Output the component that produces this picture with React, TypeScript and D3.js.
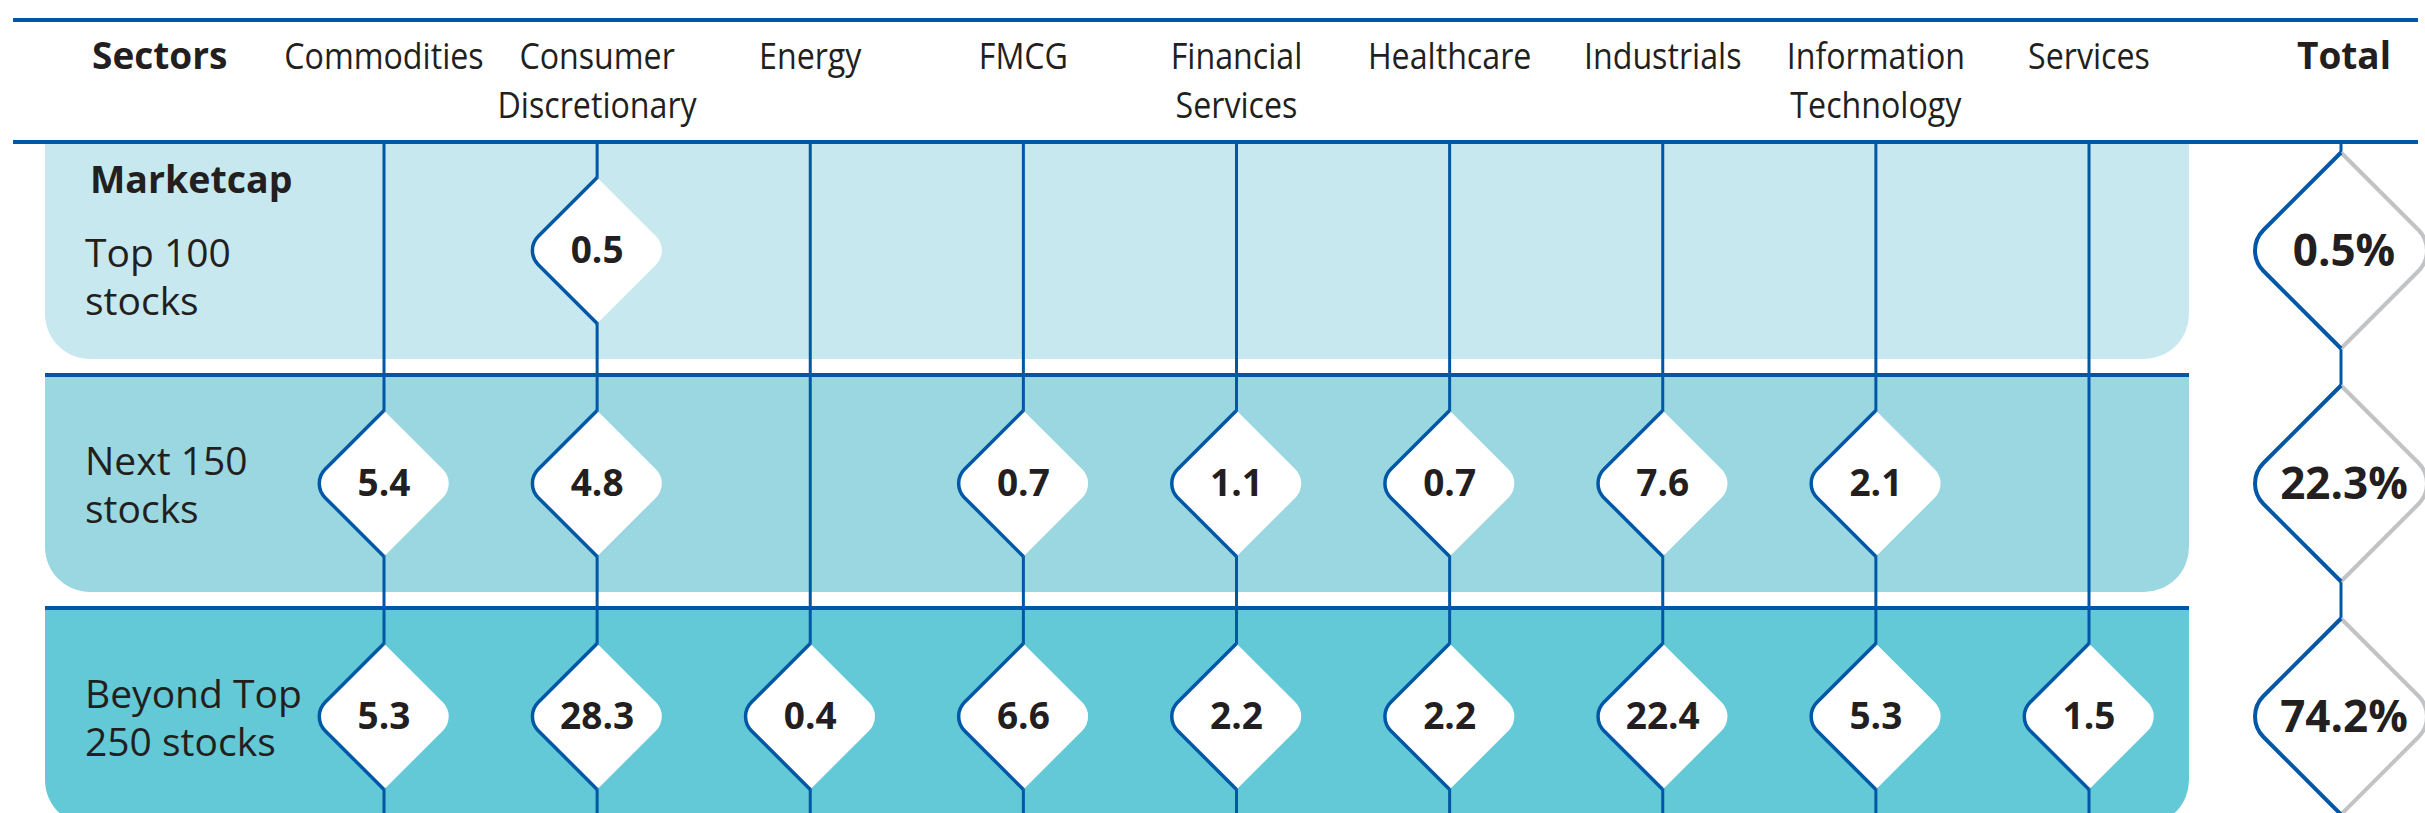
import { useEffect, useRef } from 'react';
import * as d3 from 'd3';

// Sector columns and their header lines
const sectors = [
  'Commodities',
  'Consumer Discretionary',
  'Energy',
  'FMCG',
  'Financial Services',
  'Healthcare',
  'Industrials',
  'Information Technology',
  'Services',
];
const sectorLabelLines = [
  ['Commodities'],
  ['Consumer', 'Discretionary'],
  ['Energy'],
  ['FMCG'],
  ['Financial', 'Services'],
  ['Healthcare'],
  ['Industrials'],
  ['Information', 'Technology'],
  ['Services'],
];

// Marketcap buckets (rows)
const marketcapRows = ['Top 100 stocks', 'Next 150 stocks', 'Beyond Top 250 stocks'];
const rowLabelLines = [
  ['Top 100', 'stocks'],
  ['Next 150', 'stocks'],
  ['Beyond Top', '250 stocks'],
];

// Weights (%) per sector, null = no holding
const top100 = [null, 0.5, null, null, null, null, null, null, null];
const next150 = [5.4, 4.8, null, 0.7, 1.1, 0.7, 7.6, 2.1, null];
const beyondTop250 = [5.3, 28.3, 0.4, 6.6, 2.2, 2.2, 22.4, 5.3, 1.5];
const rowTotals = [0.5, 22.3, 74.2];

function halfDiamond(cx: number, cy: number, h: number, r: number, side: -1 | 1) {
  const p = d3.path();
  if (side < 0) {
    p.moveTo(cx, cy - h);
    p.arcTo(cx - h, cy, cx, cy + h, r);
    p.lineTo(cx, cy + h);
  } else {
    p.moveTo(cx, cy + h);
    p.arcTo(cx + h, cy, cx, cy - h, r);
    p.lineTo(cx, cy - h);
  }
  return p.toString();
}

function fullDiamond(cx: number, cy: number, h: number, r: number) {
  const p = d3.path();
  p.moveTo(cx, cy - h);
  p.arcTo(cx - h, cy, cx, cy + h, r);
  p.lineTo(cx, cy + h);
  p.arcTo(cx + h, cy, cx, cy - h, r);
  p.closePath();
  return p.toString();
}

export default function App() {
  const ref = useRef<SVGSVGElement>(null);

  useEffect(() => {
    if (!ref.current) return;
    const svg = d3.select(ref.current);
    svg.selectAll('*').remove();

    const width = 2425;
    const height = 813;
    const blue = '#0057a6';
    const grey = '#c2c3c5';
    const ink = '#231f20';
    const fills = ['#c8e8ef', '#9ad7e1', '#63c9d7'];
    const font = "'Open Sans', 'Noto Sans', sans-serif";

    const panelLeft = 45;
    const panelRight = 2189;
    const ruleLeft = 13;
    const ruleRight = 2418;
    const totalX = 2341;

    const x = d3.scalePoint<string>().domain(sectors).range([384, 2089]);
    const y = d3
      .scaleBand<string>()
      .domain(marketcapRows)
      .range([142, 825])
      .paddingInner(16 / 233);
    const series = [top100, next150, beyondTop250];

    // Row panels (rounded bottom corners)
    marketcapRows.forEach((row, i) => {
      const y0 = y(row)!;
      const y1 = y0 + y.bandwidth();
      const r = 45;
      const p = d3.path();
      p.moveTo(panelLeft, y0);
      p.lineTo(panelRight, y0);
      p.lineTo(panelRight, y1 - r);
      p.arcTo(panelRight, y1, panelRight - r, y1, r);
      p.lineTo(panelLeft + r, y1);
      p.arcTo(panelLeft, y1, panelLeft, y1 - r, r);
      p.closePath();
      svg.append('path').attr('d', p.toString()).attr('fill', fills[i]);
    });

    // Horizontal rules
    svg.append('line')
      .attr('x1', ruleLeft).attr('x2', ruleRight)
      .attr('y1', 20).attr('y2', 20)
      .attr('stroke', blue).attr('stroke-width', 4);
    svg.append('line')
      .attr('x1', ruleLeft).attr('x2', ruleRight)
      .attr('y1', y(marketcapRows[0])!).attr('y2', y(marketcapRows[0])!)
      .attr('stroke', blue).attr('stroke-width', 4);
    marketcapRows.slice(1).forEach((row) => {
      svg.append('line')
        .attr('x1', panelLeft).attr('x2', panelRight)
        .attr('y1', y(row)!).attr('y2', y(row)!)
        .attr('stroke', blue).attr('stroke-width', 4);
    });

    // Vertical sector lines + total line
    const lineTop = y(marketcapRows[0])!;
    [...sectors.map((s) => x(s)!), totalX].forEach((cx) => {
      svg.append('line')
        .attr('x1', cx).attr('x2', cx)
        .attr('y1', lineTop).attr('y2', height)
        .attr('stroke', blue).attr('stroke-width', 3);
    });

    // Header
    const header = svg.append('g').attr('font-family', font).attr('fill', ink);
    header.append('text')
      .attr('x', 92).attr('y', 69)
      .attr('font-size', 37).attr('font-weight', 700)
      .text('Sectors');
    // sector names are set in a condensed cut in the original, squeeze them a bit
    sectors.forEach((s, i) => {
      sectorLabelLines[i].forEach((line, k) => {
        header.append('text')
          .attr('transform', `translate(${x(s)!},${69 + k * 49}) scale(0.87,1)`)
          .attr('text-anchor', 'middle')
          .attr('font-size', 37)
          .text(line);
      });
    });
    header.append('text')
      .attr('x', 2344).attr('y', 69)
      .attr('text-anchor', 'middle')
      .attr('font-size', 37).attr('font-weight', 700)
      .text('Total');

    // Row labels
    const labels = svg.append('g').attr('font-family', font).attr('fill', ink).attr('font-size', 39);
    labels.append('text')
      .attr('x', 90).attr('y', y(marketcapRows[0])! + 51)
      .attr('font-weight', 700).attr('font-size', 37.5)
      .text('Marketcap');
    marketcapRows.forEach((row, i) => {
      const base = y(row)! + (i === 0 ? 125 : 100);
      rowLabelLines[i].forEach((line, k) => {
        labels.append('text').attr('x', 85).attr('y', base + k * 48).text(line);
      });
    });

    // Sector diamonds
    const fmt = d3.format('.1f');
    marketcapRows.forEach((row, i) => {
      const cy = y(row)! + y.bandwidth() / 2;
      series[i].forEach((v, j) => {
        if (v == null) return;
        const cx = x(sectors[j])!;
        const g = svg.append('g');
        g.append('path').attr('d', fullDiamond(cx, cy, 73, 20)).attr('fill', '#fff');
        g.append('path')
          .attr('d', halfDiamond(cx, cy, 73, 20, -1))
          .attr('fill', 'none').attr('stroke', blue).attr('stroke-width', 3.5);
        g.append('text')
          .attr('x', cx).attr('y', cy).attr('dy', '0.35em')
          .attr('text-anchor', 'middle')
          .attr('font-family', font).attr('font-size', 37).attr('font-weight', 700)
          .attr('fill', ink)
          .text(fmt(v));
      });

      // Total diamond
      const g = svg.append('g');
      g.append('path').attr('d', fullDiamond(totalX, cy, 98, 29)).attr('fill', '#fff');
      g.append('path')
        .attr('d', halfDiamond(totalX, cy, 98, 29, 1))
        .attr('fill', 'none').attr('stroke', grey).attr('stroke-width', 4);
      g.append('path')
        .attr('d', halfDiamond(totalX, cy, 98, 29, -1))
        .attr('fill', 'none').attr('stroke', blue).attr('stroke-width', 4);
      g.append('text')
        .attr('x', totalX + 3).attr('y', cy).attr('dy', '0.35em')
        .attr('text-anchor', 'middle')
        .attr('font-family', font).attr('font-size', 44).attr('font-weight', 700)
        .attr('fill', ink)
        .text(`${fmt(rowTotals[i])}%`);
    });

    svg.attr('width', width).attr('height', height);
  }, []);

  return (
    <svg
      ref={ref}
      width={2425}
      height={813}
      style={{ position: 'absolute', left: 0, top: 0, background: '#fff' }}
    />
  );
}
